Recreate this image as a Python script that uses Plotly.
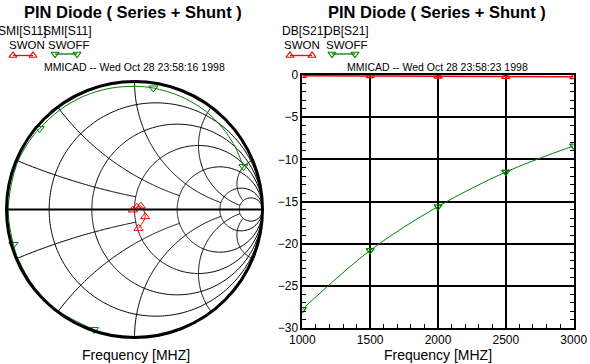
import numpy as np
import plotly.graph_objects as go

W, H = 590, 364

# ---------------- data ----------------
title_text = "PIN Diode ( Series + Shunt )"
stamp_left = "MMICAD -- Wed Oct 28 23:58:16 1998"
stamp_right = "MMICAD -- Wed Oct 28 23:58:23 1998"
x_title = "Frequency [MHZ]"
series_names = ["SWON", "SWOFF"]
smith_label = "SMI[S11]"
db_label = "DB[S21]"

freq_mhz = [1000, 1500, 2000, 2500, 3000]

# S21 in dB
s21_on_db = [-0.08, -0.10, -0.15, -0.20, -0.22]
s21_off_db = [-27.8, -20.8, -15.6, -11.5, -8.4]

# S11 reflection coefficient at the marker frequencies
s11_on_re = [-0.013, 0.018, 0.049, 0.083, 0.031]
s11_on_im = [-0.004, 0.017, 0.027, -0.056, -0.147]
s11_off_re = [-0.317, -0.946, -0.742, 0.147, 0.851]
s11_off_im = [-0.938, -0.273, 0.632, 0.949, 0.335]

# S11 (SWOFF) sweep, 1000 -> 3000 MHz
s11_off_path_re = [-0.317, -0.593, -0.776, -0.908, -0.946, -0.982, -0.982, -0.920, -0.824,
                   -0.742, -0.588, -0.396, -0.191, 0.005, 0.147, 0.348, 0.499, 0.600,
                   0.709, 0.789, 0.851]
s11_off_path_im = [-0.938, -0.793, -0.615, -0.389, -0.273, -0.081, 0.074, 0.353, 0.531,
                   0.632, 0.774, 0.885, 0.947, 0.962, 0.949, 0.889, 0.808, 0.730,
                   0.610, 0.483, 0.335]

# Smith grid: constant-resistance circles and reactance arcs (with the r where each arc stops)
grid_r = [0.2, 0.5, 1, 2, 5, 10]
grid_x = [0.2, 0.5, 1, 2, 5]
grid_x_stop = [1, 2, 5, 10, 10]

RED = "#FF0000"
GREEN = "#008000"
FONT = "Liberation Sans, Arial, sans-serif"


def to_z(re, im):
    g = np.array(re) + 1j * np.array(im)
    return (1 + g) / (1 - g)


def px(x):
    return x / W


def py(y):
    return 1 - y / H


fig = go.Figure()

# ---------------- Smith grid (drawn through the smith projection) ----------------
grid_line = dict(color="black", width=1)
theta = np.linspace(-np.pi / 2 + 1e-4, np.pi / 2 - 1e-4, 361)
for r in grid_r:
    xs = np.tan(theta)
    fig.add_trace(go.Scattersmith(real=np.full_like(xs, r), imag=xs, mode="lines", line=grid_line,
                                  subplot="smith", showlegend=False, hoverinfo="skip"))
for xv, rstop in zip(grid_x, grid_x_stop):
    rs = np.concatenate([np.linspace(0, 1, 60), np.geomspace(1.0, rstop, 80)]) if rstop > 1 else np.linspace(0, rstop, 80)
    for sgn in (1, -1):
        fig.add_trace(go.Scattersmith(real=rs, imag=np.full_like(rs, sgn * xv), mode="lines", line=grid_line,
                                      subplot="smith", showlegend=False, hoverinfo="skip"))

# ---------------- Smith chart data (left) ----------------
z_off_path = to_z(s11_off_path_re, s11_off_path_im)
z_off = to_z(s11_off_re, s11_off_im)
z_on = to_z(s11_on_re, s11_on_im)

fig.add_trace(go.Scattersmith(real=z_off_path.real, imag=z_off_path.imag, mode="lines",
                              line=dict(color=GREEN, width=1, shape="spline"),
                              subplot="smith", showlegend=False))
fig.add_trace(go.Scattersmith(real=z_off.real, imag=z_off.imag, mode="markers",
                              marker=dict(symbol="triangle-down-open", color=GREEN, size=8,
                                          line=dict(width=1, color=GREEN)),
                              subplot="smith", showlegend=False))
fig.add_trace(go.Scattersmith(real=z_on.real, imag=z_on.imag, mode="lines+markers",
                              line=dict(color=RED, width=1, shape="spline"),
                              marker=dict(symbol="triangle-up-open", color=RED, size=8,
                                          line=dict(width=1, color=RED)),
                              subplot="smith", showlegend=False))

# ---------------- S21 chart (right) ----------------
fig.add_trace(go.Scatter(x=freq_mhz, y=s21_off_db, mode="lines+markers",
                         line=dict(color=GREEN, width=1, shape="spline"),
                         marker=dict(symbol="triangle-down-open", color=GREEN, size=7,
                                     line=dict(width=1.3, color=GREEN)),
                         xaxis="x", yaxis="y", showlegend=False))
fig.add_trace(go.Scatter(x=freq_mhz, y=s21_on_db, mode="lines+markers",
                         line=dict(color=RED, width=1.5),
                         marker=dict(symbol="triangle-up-open", color=RED, size=7,
                                     line=dict(width=1.3, color=RED)),
                         xaxis="x", yaxis="y", showlegend=False))

# ---------------- legend glyphs (overlay in pixel space) ----------------
glyphs = [
    (13, 33, 55.5, RED, "triangle-up-open"),
    (55, 77, 54, GREEN, "triangle-down-open"),
    (290, 312, 55.5, RED, "triangle-up-open"),
    (332, 355, 54, GREEN, "triangle-down-open"),
]
for x0, x1, yy, col, sym in glyphs:
    fig.add_trace(go.Scatter(x=[x0, x1], y=[yy, yy], mode="lines+markers",
                             line=dict(color=col, width=1.3),
                             marker=dict(symbol=sym, color=col, size=7, line=dict(width=1.2, color=col)),
                             xaxis="x2", yaxis="y2", showlegend=False, hoverinfo="skip",
                             cliponaxis=False))

# ---------------- text ----------------
ann = []


def text(x, y, s, size=12, bold=False, xanchor="left"):
    ann.append(dict(x=px(x), y=py(y), xref="paper", yref="paper", text=("<b>%s</b>" % s) if bold else s,
                    showarrow=False, xanchor=xanchor, yanchor="middle",
                    font=dict(family=FONT, size=size, color="black")))


text(133, 12, title_text, size=16.5, bold=True, xanchor="center")
text(436.5, 12, title_text, size=16.5, bold=True, xanchor="center")
text(-4, 30.5, smith_label)
text(41, 30.5, smith_label)
text(280, 30.5, db_label)
text(322, 30.5, db_label)
text(7, 45, series_names[0], size=11.5)
text(46, 45, series_names[1], size=11.5)
text(282, 45, series_names[0], size=11.5)
text(324, 45, series_names[1], size=11.5)
text(134, 67, stamp_left, size=10.5, xanchor="center")
text(437, 67, stamp_right, size=10.5, xanchor="center")
text(136, 355, x_title, size=14, xanchor="center")

axis_common = dict(showgrid=True, gridcolor="black", gridwidth=2, showline=True, linecolor="black",
                   linewidth=1.5, zeroline=False, automargin=False,
                   tickfont=dict(family=FONT, size=12, color="black"))

fig.update_layout(
    width=W, height=H, margin=dict(l=0, r=0, t=0, b=0, autoexpand=False),
    paper_bgcolor="white", plot_bgcolor="rgba(0,0,0,0)",
    annotations=ann,
    smith=dict(
        domain=dict(x=[px(6), px(263)], y=[py(337.5), py(81.5)]),
        bgcolor="white",
        realaxis=dict(tickvals=grid_r, showticklabels=False, ticks="", showgrid=False,
                      showline=True, linecolor="black", linewidth=2),
        imaginaryaxis=dict(tickvals=grid_x, showticklabels=False, ticks="", showgrid=False,
                           showline=True, linecolor="black", linewidth=3),
    ),
    xaxis=dict(domain=[px(302.3), px(573.7)], range=[1000, 3000], tick0=1000, dtick=500, anchor="y",
               ticks="inside", ticklen=4, tickcolor="black", mirror=True,
               minor=dict(dtick=100, ticks="inside", ticklen=4, tickcolor="black", showgrid=False),
               title=dict(text=x_title, font=dict(family=FONT, size=14, color="black"), standoff=4),
               **axis_common),
    yaxis=dict(domain=[py(328), py(75)], range=[-30, 0], tick0=0, dtick=5, anchor="x",
               ticks="inside", ticklen=4, tickcolor="black", mirror="allticks",
               minor=dict(dtick=1, ticks="inside", ticklen=4, tickcolor="black", showgrid=False),
               **axis_common),
    xaxis2=dict(domain=[0, 1], range=[0, W], visible=False, anchor="y2", fixedrange=True),
    yaxis2=dict(domain=[0, 1], range=[H, 0], visible=False, anchor="x2", fixedrange=True),
)

fig.write_html("out.html", post_script="document.body.style.margin='0px';",
               config={"displayModeBar": False})
